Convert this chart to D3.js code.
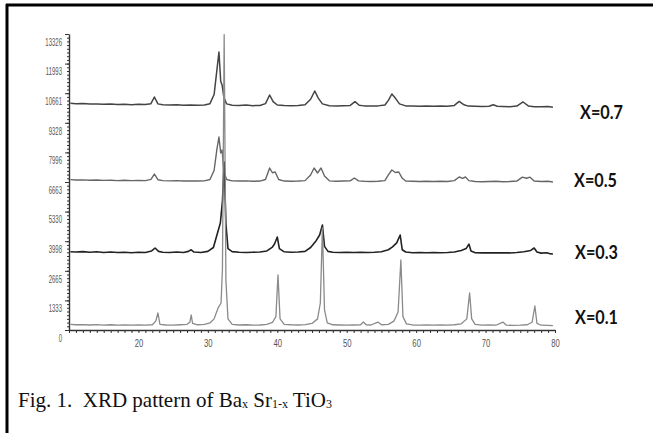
<!DOCTYPE html>
<html>
<head>
  <meta charset="utf-8">
  <title>XRD pattern</title>
  <style>
    body { margin: 0; background: #fff; }
    .trace { fill: none; stroke-linejoin: round; }
    .axis path, .axis line { stroke: #333; }
    .axis text { fill: #555; font-family: "Liberation Sans", Arial, sans-serif; }
    .lbl { font-family: Lato, "Open Sans", sans-serif; font-weight: bold; font-size: 18px; fill: #111; }
    .caption { font-family: "Liberation Serif", "DejaVu Serif", serif; font-size: 21px; fill: #111; }
  </style>
</head>
<body>
<script src="https://d3js.org/d3.v7.min.js"></script>
<script>
// tick labels
const yTicks = [0, 1333, 2665, 3998, 5330, 6663, 7996, 9328, 10661, 11993, 13326];
const xTicks = [20, 30, 40, 50, 60, 70, 80];
const seriesNames = ["X=0.7", "X=0.5", "X=0.3", "X=0.1"];

// [2theta, intensity]
const x07 = [[10.2,10210],[11,10190],[12,10200],[13,10170],[14,10180],[15,10160],[16,10175],[17,10150],[18,10165],[19,10145],[20,10160],[21,10150],[21.8,10190],[22.3,10490],[22.8,10180],[23.5,10140],[24.5,10130],[25.5,10145],[26.5,10120],[27.5,10135],[28.5,10120],[29.5,10130],[30.3,10190],[30.9,10600],[31.3,11700],[31.6,12516],[31.85,11200],[32.05,11030],[32.3,10480],[32.7,10180],[33.5,10120],[34.5,10110],[35.5,10125],[36.5,10100],[37.5,10110],[38.3,10190],[38.9,10580],[39.4,10280],[40,10130],[41,10110],[42,10100],[43,10110],[44,10140],[44.8,10390],[45.4,10760],[45.9,10440],[46.5,10180],[47.5,10100],[48.5,10090],[49.5,10100],[50.5,10110],[51.2,10280],[51.8,10120],[52.5,10090],[53.5,10080],[54.5,10090],[55.5,10130],[56.0,10340],[56.5,10625],[57.0,10440],[57.6,10180],[58.5,10090],[59.5,10080],[60.5,10070],[61.5,10080],[62.5,10070],[63.5,10080],[64.5,10070],[65.5,10110],[66.2,10290],[66.9,10140],[67.5,10080],[68.5,10070],[69.5,10060],[70.5,10070],[71.1,10140],[71.7,10070],[72.5,10060],[73.5,10050],[74.5,10080],[75.4,10265],[76.2,10080],[77,10050],[78,10050],[79,10060],[79.7,10030]];

const x05 = [[10.2,6770],[11,6750],[12,6760],[13,6740],[14,6755],[15,6735],[16,6745],[17,6725],[18,6740],[19,6725],[20,6735],[21,6725],[21.8,6780],[22.3,7023],[22.8,6765],[23.5,6725],[24.5,6715],[25.5,6725],[26.5,6705],[27.5,6715],[28.5,6705],[29.5,6715],[30.3,6775],[30.9,7180],[31.3,8130],[31.6,8689],[31.85,7969],[32.05,8104],[32.3,7130],[32.7,6775],[33.5,6715],[34.5,6705],[35.5,6715],[36.5,6695],[37.5,6705],[38.3,6775],[38.9,7293],[39.3,7080],[39.7,7113],[40.2,6775],[41,6705],[42,6695],[43,6705],[44,6725],[44.8,6980],[45.3,7293],[45.8,7068],[46.3,7293],[46.8,6930],[47.5,6715],[48.5,6695],[49.5,6705],[50.5,6715],[51.1,6843],[51.7,6715],[52.5,6695],[53.5,6685],[54.5,6695],[55.5,6725],[56.0,6980],[56.5,7203],[57.0,7090],[57.5,7113],[58.0,6830],[58.5,6705],[59.5,6695],[60.5,6685],[61.5,6695],[62.5,6685],[63.5,6695],[64.5,6685],[65.5,6725],[66.2,6888],[66.7,6830],[67.1,6888],[67.6,6725],[68.5,6685],[69.5,6675],[70.5,6685],[71.5,6695],[72.5,6675],[73.5,6685],[74.5,6705],[75.3,6880],[75.9,6830],[76.4,6880],[77,6705],[78,6685],[79,6695],[79.7,6665]];

const x03 = [[10.2,3520],[11,3510],[12,3530],[13,3500],[14,3520],[15,3490],[16,3510],[17,3490],[18,3500],[19,3480],[20,3500],[21,3490],[21.9,3560],[22.4,3692],[22.9,3540],[23.5,3500],[24.5,3490],[25.5,3510],[26.5,3490],[27.2,3540],[27.6,3612],[28,3510],[29,3490],[30,3540],[30.8,3715],[31.4,4380],[31.8,4817],[32.1,5805],[32.35,7563],[32.6,4786],[32.9,3664],[33.5,3530],[34.5,3500],[35.5,3490],[36.5,3500],[37.5,3510],[38.5,3560],[39.3,3735],[39.6,3868],[40.0,4187],[40.3,3664],[41,3520],[42,3500],[43,3510],[44,3540],[44.8,3715],[45.6,4020],[46.1,4277],[46.5,4727],[46.8,3765],[47.3,3540],[48,3500],[49,3490],[50,3500],[51,3490],[52,3500],[53,3490],[54,3500],[55,3520],[56,3612],[56.6,3745],[57.2,3920],[57.7,4277],[58.0,3612],[58.5,3510],[59.5,3480],[60.5,3490],[61.5,3480],[62.5,3490],[63.5,3480],[64.5,3490],[65.5,3510],[66.5,3582],[67.2,3664],[67.6,3868],[67.9,3560],[68.5,3480],[69.5,3470],[70.5,3480],[71.5,3470],[72.5,3480],[73.5,3470],[74.5,3490],[75.5,3520],[76.5,3582],[77.0,3692],[77.4,3510],[78,3460],[78.8,3480],[79.2,3440],[79.7,3420]];

const x01 = [[10.2,256],[11,236],[12,246],[13,226],[14,241],[15,221],[16,236],[17,215],[18,231],[19,215],[20,226],[21,215],[22,236],[22.5,399],[22.8,766],[23.1,256],[24,226],[25,215],[26,236],[27,256],[27.4,348],[27.6,675],[27.8,297],[28.5,236],[29.5,256],[30.3,317],[30.9,501],[31.5,1011],[31.9,1216],[32.1,2746],[32.35,13300],[32.6,2235],[32.9,501],[33.5,256],[34.5,226],[35.5,236],[36.5,215],[37.5,226],[38.5,256],[39.3,338],[39.8,603],[40.1,2476],[40.4,501],[41,256],[42,236],[43,226],[44,246],[45,297],[45.8,501],[46.2,1216],[46.5,4592],[46.8,909],[47.2,317],[48,236],[49,226],[50,215],[51,226],[52,236],[52.4,358],[52.8,236],[53.5,226],[54.5,358],[55,236],[56,256],[56.8,399],[57.4,807],[57.8,3151],[58.1,603],[58.6,277],[59.5,226],[60.5,215],[61.5,226],[62.5,215],[63.5,226],[64.5,215],[65.5,236],[66.5,277],[67.3,501],[67.7,1666],[68.0,501],[68.5,256],[69.5,215],[70.5,226],[71.5,215],[72.5,358],[73,215],[74,205],[75,215],[76,236],[76.7,348],[77.1,1080],[77.4,297],[78,215],[79,205],[79.7,195]];

const W = 653, H = 433;
const svg = d3.select("body").append("svg").attr("width", W).attr("height", H);

// frame (left + top edges only are visible)
svg.append("line").attr("x1", 7).attr("y1", 4).attr("x2", 7).attr("y2", H).attr("stroke", "#000").attr("stroke-width", 3);
svg.append("line").attr("x1", 6).attr("y1", 5).attr("x2", W).attr("y2", 5).attr("stroke", "#000").attr("stroke-width", 3);

const x = d3.scaleLinear().domain([10, 80]).range([69, 555]);
const y = d3.scaleLinear().domain([0, 13326]).range([330, 34]);

// y minor ticks
svg.append("g").attr("class", "axis").attr("transform", "translate(69,0)")
  .call(d3.axisLeft(y).tickValues(d3.range(0, 13327, 13326 / 80)).tickSize(2).tickFormat(""))
  .call(g => g.select(".domain").remove());

// y axis
const yAx = svg.append("g").attr("class", "axis").attr("transform", "translate(69,0)")
  .call(d3.axisLeft(y).tickValues(yTicks).tickSize(4).tickSizeOuter(0).tickFormat(d3.format("d")));
yAx.select(".domain").attr("stroke-width", 1.4);
yAx.selectAll("text")
  .attr("font-size", 10)
  .attr("x", -7 / 0.6)
  .attr("y", 8)
  .attr("transform", "scale(0.6,1)");

// x axis
const xAx = svg.append("g").attr("class", "axis").attr("transform", "translate(0,330)")
  .call(d3.axisBottom(x).tickValues(d3.range(10, 81, 1)).tickSize(3).tickSizeOuter(0)
    .tickFormat(d => xTicks.includes(d) ? d : ""));
xAx.select(".domain").attr("stroke-width", 1.6);
xAx.selectAll("text")
  .attr("font-size", 11)
  .attr("y", 9)
  .attr("transform", "scale(0.7,1)");

// traces
const line = d3.line().x(d => x(d[0])).y(d => y(d[1]));
const traces = [
  { data: x07, color: "#444", w: 1.5 },
  { data: x05, color: "#666", w: 1.4 },
  { data: x03, color: "#222", w: 1.6 },
  { data: x01, color: "#8a8a8a", w: 1.3 }
];
svg.selectAll(".trace").data(traces).enter().append("path")
  .attr("class", "trace")
  .attr("d", d => line(d.data))
  .attr("stroke", d => d.color)
  .attr("stroke-width", d => d.w);

// series labels
const lblPos = [[580, 119], [574, 187], [575, 259], [575, 324]];
svg.selectAll(".lbl").data(seriesNames).enter().append("text")
  .attr("class", "lbl")
  .attr("x", (d, i) => lblPos[i][0])
  .attr("y", (d, i) => lblPos[i][1])
  .attr("textLength", 43)
  .attr("lengthAdjust", "spacingAndGlyphs")
  .text(d => d);

// caption
const cap = svg.append("text").attr("class", "caption").attr("x", 18).attr("y", 407);
cap.append("tspan").text("Fig. 1.\u00a0 XRD pattern of Ba");
cap.append("tspan").attr("font-size", 12).attr("dy", 1).text("x");
cap.append("tspan").attr("dy", -1).text(" Sr");
cap.append("tspan").attr("font-size", 12).attr("dy", 1).text("1-x");
cap.append("tspan").attr("dy", -1).text(" TiO");
cap.append("tspan").attr("font-size", 12).attr("dy", 1).text("3");
</script>
</body>
</html>
